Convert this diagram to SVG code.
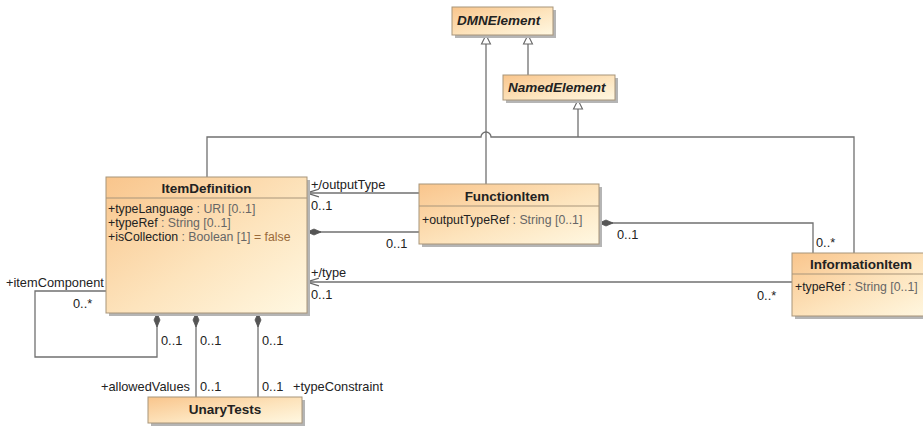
<svg xmlns="http://www.w3.org/2000/svg" width="923" height="427" viewBox="0 0 923 427">
<defs>
<linearGradient id="g" x1="0" y1="0" x2="1" y2="1">
<stop offset="0" stop-color="#f9c58c"/>
<stop offset="0.55" stop-color="#fde4bd"/>
<stop offset="1" stop-color="#fff8e2"/>
</linearGradient>
<marker id="open" viewBox="0 0 12 10" refX="12" refY="5" markerWidth="12" markerHeight="10" orient="auto" markerUnits="userSpaceOnUse">
<path d="M0,1 L12,5 L0,9" fill="none" stroke="#666" stroke-width="1.2"/>
</marker>
<marker id="dia" viewBox="0 0 16 8" refX="14" refY="4" markerWidth="16" markerHeight="8" orient="auto" markerUnits="userSpaceOnUse">
<path d="M0,4 L7,1 L14,4 L7,7 Z" fill="#555" stroke="#555" stroke-width="0.8"/>
</marker>
<marker id="gen" viewBox="0 0 12 12" refX="10" refY="6" markerWidth="12" markerHeight="12" orient="auto" markerUnits="userSpaceOnUse">
<path d="M10,6 L1,1.5 L1,10.5 Z" fill="#fff" stroke="#666" stroke-width="1.1"/>
</marker>
</defs>
<style>
.box{fill:url(#g);stroke:#a8957a;stroke-width:1}
.sh{fill:#b5b5b5}
.sep{stroke:#a8957a;stroke-width:1}
.t{font-family:"Liberation Sans",Arial,sans-serif;font-size:12.3px;fill:#222}
.h{font-family:"Liberation Sans",Arial,sans-serif;font-size:13.5px;font-weight:bold;fill:#222}
.hi{font-family:"Liberation Sans",Arial,sans-serif;font-size:13.5px;font-weight:bold;font-style:italic;fill:#222}
.ty{fill:#666}
.df{fill:#9a6a3a}
.ln{fill:none;stroke:#707070;stroke-width:1.3}
.lb{font-family:"Liberation Sans",Arial,sans-serif;font-size:12.8px;fill:#222}
</style>
<rect width="923" height="427" fill="#fff"/>

<g id="connectors">
<path class="ln" d="M486,184 L486,35" marker-end="url(#gen)"/>
<path class="ln" d="M528,75 L528,35" marker-end="url(#gen)"/>
<path class="ln" d="M578,137 L578,100" marker-end="url(#gen)"/>
<path class="ln" d="M207,177 L207,137 L481,137 A5,5 0 0 1 491,137 L854,137 L854,253"/>
<path class="ln" d="M419,193 L307,193" marker-end="url(#open)"/>
<path class="ln" d="M419,232 L307,232" marker-end="url(#dia)"/>
<path class="ln" d="M813,253 L813,223 L599,223" marker-end="url(#dia)"/>
<path class="ln" d="M792,282 L307,282" marker-end="url(#open)"/>
<path class="ln" d="M106,291 L35,291 L35,357 L157,357 L157,313" marker-end="url(#dia)"/>
<path class="ln" d="M196,397 L196,313" marker-end="url(#dia)"/>
<path class="ln" d="M258,397 L258,313" marker-end="url(#dia)"/>
</g>

<g id="labels">
<text class="lb" x="311" y="189">+/outputType</text>
<text class="lb" x="311" y="210">0..1</text>
<text class="lb" x="386" y="248">0..1</text>
<text class="lb" x="617" y="239">0..1</text>
<text class="lb" x="816" y="247">0..*</text>
<text class="lb" x="311" y="277">+/type</text>
<text class="lb" x="311" y="299">0..1</text>
<text class="lb" x="757" y="300">0..*</text>
<text class="lb" x="6" y="287">+itemComponent</text>
<text class="lb" x="73" y="308">0..*</text>
<text class="lb" x="161" y="345">0..1</text>
<text class="lb" x="200" y="345">0..1</text>
<text class="lb" x="262" y="345">0..1</text>
<text class="lb" x="190" y="391" text-anchor="end">+allowedValues</text>
<text class="lb" x="200" y="391">0..1</text>
<text class="lb" x="262" y="391">0..1</text>
<text class="lb" x="293" y="391">+typeConstraint</text>
</g>

<g id="DMNElement">
<rect class="sh" x="455" y="10" width="101" height="28"/>
<rect class="box" x="452" y="7" width="101" height="28"/>
<text class="hi" x="457" y="25">DMNElement</text>
</g>

<g id="NamedElement">
<rect class="sh" x="506" y="78" width="112" height="25"/>
<rect class="box" x="503" y="75" width="112" height="25"/>
<text class="hi" x="508" y="92">NamedElement</text>
</g>

<g id="ItemDefinition">
<rect class="sh" x="109" y="180" width="201" height="136"/>
<rect class="box" x="106" y="177" width="201" height="136"/>
<line class="sep" x1="106" y1="198" x2="307" y2="198"/>
<text class="h" x="206.5" y="193" text-anchor="middle">ItemDefinition</text>
<text class="t" x="108" y="213">+typeLanguage<tspan class="ty"> : URI [0..1]</tspan></text>
<text class="t" x="108" y="227">+typeRef<tspan class="ty"> : String [0..1]</tspan></text>
<text class="t" x="108" y="241">+isCollection<tspan class="ty"> : Boolean [1] </tspan><tspan class="df">= false</tspan></text>
</g>

<g id="FunctionItem">
<rect class="sh" x="422" y="187" width="180" height="60"/>
<rect class="box" x="419" y="184" width="180" height="60"/>
<line class="sep" x1="419" y1="206" x2="599" y2="206"/>
<text class="h" x="507" y="201" text-anchor="middle">FunctionItem</text>
<text class="t" x="422" y="224">+outputTypeRef<tspan class="ty"> : String [0..1]</tspan></text>
</g>

<g id="InformationItem">
<rect class="sh" x="795" y="256" width="140" height="63"/>
<rect class="box" x="792" y="253" width="140" height="63"/>
<line class="sep" x1="792" y1="274" x2="932" y2="274"/>
<text class="h" x="861" y="269" text-anchor="middle">InformationItem</text>
<text class="t" x="795" y="291">+typeRef<tspan class="ty"> : String [0..1]</tspan></text>
</g>

<g id="UnaryTests">
<rect class="sh" x="151" y="400" width="154" height="26"/>
<rect class="box" x="148" y="397" width="154" height="26"/>
<text class="h" x="225" y="414" text-anchor="middle">UnaryTests</text>
</g>
</svg>
